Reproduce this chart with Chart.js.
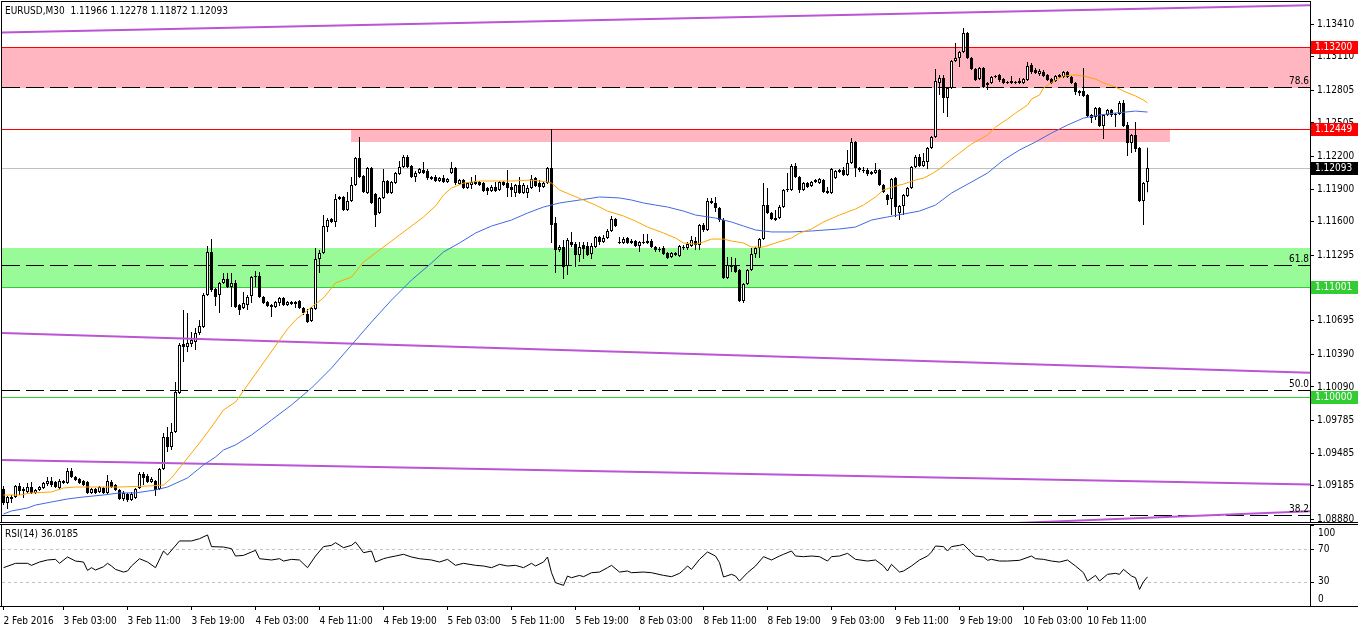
<!DOCTYPE html>
<html>
<head>
<meta charset="utf-8">
<script src="https://cdn.jsdelivr.net/npm/chart.js@4.4.1/dist/chart.umd.min.js"></script>
<style>
  html, body { margin: 0; padding: 0; background: #fff; }
  #wrap { position: relative; width: 1358px; height: 633px; overflow: hidden; }
  canvas { position: absolute; left: 0; }
  #main { top: 0; }
  #rsi { top: 523px; }
</style>
</head>
<body>
<div id="wrap">
  <canvas id="main" width="1358" height="523"></canvas>
  <canvas id="rsi" width="1358" height="110"></canvas>
</div>
<script>
// EURUSD M30 candles, bar 0 = 2 Feb 2016 19:30
const opens = [
  1.09156,1.09028,1.09083,1.09083,1.09183,1.09138,1.09129,1.09174,1.09120,1.09147,
  1.09165,1.09201,1.09229,1.09220,1.09165,1.09229,1.09211,1.09321,1.09266,1.09248,
  1.09229,1.09220,1.09120,1.09156,1.09129,1.09165,1.09120,1.09220,1.09192,1.09147,
  1.09065,1.09110,1.09055,1.09074,1.09165,1.09293,1.09275,1.09220,1.09229,1.09156,
  1.09339,1.09632,1.09540,1.09678,1.10034,1.10482,1.10455,1.10482,1.10501,1.10583,
  1.10638,1.10931,1.11325,1.10986,1.10931,1.11041,1.11077,1.11004,1.11041,1.10840,
  1.10812,1.10840,1.10922,1.11095,1.11104,1.10913,1.10867,1.10840,1.10821,1.10858,
  1.10904,1.10840,1.10849,1.10849,1.10876,1.10812,1.10757,1.10693,1.10803,1.11260,
  1.11315,1.11553,1.11626,1.11599,1.11809,1.11828,1.11709,1.11791,1.11937,1.12184,
  1.12019,1.11864,1.12093,1.11855,1.11681,1.11819,1.11974,1.11864,1.11955,1.12038,
  1.12102,1.12193,1.12111,1.12010,1.12047,1.12075,1.12065,1.12010,1.12010,1.11974,
  1.12001,1.11965,1.12047,1.12093,1.11946,1.11983,1.11910,1.11937,1.11974,1.11965,
  1.11955,1.11910,1.11882,1.11919,1.11892,1.11965,1.11955,1.11919,1.11864,1.11937,
  1.11864,1.11864,1.11910,1.12001,1.11955,1.11919,1.11955,1.12093,1.11590,1.11343,
  1.11370,1.11196,1.11416,1.11397,1.11297,1.11388,1.11379,1.11306,1.11370,1.11462,
  1.11416,1.11452,1.11517,1.11626,1.11416,1.11407,1.11452,1.11425,1.11425,1.11379,
  1.11416,1.11425,1.11425,1.11370,1.11343,1.11361,1.11315,1.11278,1.11315,1.11288,
  1.11370,1.11361,1.11379,1.11425,1.11388,1.11571,1.11526,1.11791,1.11773,1.11727,
  1.11617,1.11086,1.11205,1.11205,1.11160,1.10876,1.11031,1.11160,1.11306,1.11361,
  1.11443,1.11754,1.11681,1.11635,1.11635,1.11736,1.11892,1.11892,1.12111,1.12010,
  1.11892,1.11955,1.11928,1.11965,1.11955,1.11983,1.11882,1.11864,1.12001,1.12056,
  1.12075,1.12029,1.12139,1.12331,1.12093,1.12065,1.12075,1.12056,1.12047,1.12075,
  1.11937,1.11846,1.11809,1.12001,1.11681,1.11745,1.11837,1.11910,1.12102,1.12193,
  1.12111,1.12148,1.12276,1.12377,1.12871,1.12917,1.12733,1.12825,1.13072,1.13099,
  1.13154,1.13328,1.13099,1.12999,1.12907,1.13008,1.12871,1.12871,1.12926,1.12944,
  1.12907,1.12880,1.12871,1.12880,1.12871,1.12871,1.12898,1.13035,1.12990,1.12953,
  1.12971,1.12944,1.12907,1.12889,1.12944,1.12926,1.12971,1.12926,1.12871,1.12797,
  1.12797,1.12761,1.12578,1.12559,1.12642,1.12477,1.12578,1.12624,1.12587,1.12587,
  1.12688,1.12486,1.12322,1.12395,1.12276,1.11791,1.11966
];
const highs = [
  1.09183,1.09092,1.09101,1.09192,1.09211,1.09174,1.09211,1.09220,1.09156,1.09183,
  1.09220,1.09266,1.09266,1.09229,1.09248,1.09238,1.09348,1.09348,1.09275,1.09257,
  1.09238,1.09229,1.09165,1.09165,1.09183,1.09174,1.09284,1.09238,1.09201,1.09156,
  1.09138,1.09120,1.09129,1.09165,1.09312,1.09312,1.09293,1.09266,1.09238,1.09348,
  1.09668,1.09724,1.09760,1.10135,1.10492,1.10794,1.10766,1.10592,1.10629,1.10702,
  1.10950,1.11379,1.11443,1.10995,1.11050,1.11132,1.11132,1.11132,1.11068,1.10849,
  1.10959,1.10931,1.11104,1.11150,1.11141,1.10922,1.10876,1.10849,1.10876,1.10913,
  1.10913,1.10876,1.10876,1.10876,1.10885,1.10821,1.10803,1.10821,1.11361,1.11343,
  1.11663,1.11635,1.11635,1.11855,1.11837,1.11837,1.11873,1.12010,1.12193,1.12377,
  1.12029,1.12102,1.12102,1.11864,1.11828,1.12084,1.11983,1.11974,1.12056,1.12157,
  1.12212,1.12212,1.12120,1.12065,1.12093,1.12148,1.12084,1.12019,1.12029,1.12010,
  1.12029,1.12001,1.12148,1.12102,1.11992,1.11992,1.11965,1.12010,1.12029,1.11974,
  1.11965,1.11919,1.11937,1.11965,1.11974,1.11974,1.12075,1.11955,1.11946,1.12010,
  1.11955,1.11937,1.12029,1.12010,1.11983,1.11965,1.12102,1.12450,1.11645,1.11388,
  1.11434,1.11452,1.11508,1.11416,1.11416,1.11416,1.11416,1.11407,1.11471,1.11471,
  1.11480,1.11535,1.11654,1.11635,1.11462,1.11462,1.11462,1.11443,1.11434,1.11425,
  1.11489,1.11489,1.11443,1.11379,1.11370,1.11379,1.11325,1.11325,1.11325,1.11388,
  1.11388,1.11416,1.11471,1.11462,1.11580,1.11590,1.11819,1.11819,1.11828,1.11736,
  1.11635,1.11278,1.11278,1.11269,1.11169,1.11041,1.11169,1.11361,1.11370,1.11452,
  1.11955,1.11910,1.11690,1.11709,1.11754,1.11901,1.12047,1.12129,1.12139,1.12019,
  1.11965,1.11965,1.11974,1.11992,1.12001,1.11992,1.11919,1.12093,1.12075,1.12084,
  1.12102,1.12258,1.12367,1.12340,1.12102,1.12102,1.12093,1.12065,1.12139,1.12084,
  1.11946,1.11855,1.12001,1.12010,1.11754,1.11855,1.11919,1.12111,1.12212,1.12221,
  1.12230,1.12285,1.12386,1.12999,1.12944,1.12944,1.12834,1.13081,1.13237,1.13163,
  1.13374,1.13337,1.13108,1.13008,1.13017,1.13017,1.12880,1.12935,1.12944,1.12953,
  1.12917,1.12889,1.12935,1.12889,1.12917,1.12917,1.13063,1.13054,1.13008,1.12999,
  1.12990,1.12953,1.12917,1.12944,1.12953,1.12981,1.12981,1.12935,1.12880,1.12807,
  1.13008,1.12770,1.12587,1.12651,1.12651,1.12587,1.12633,1.12633,1.12596,1.12706,
  1.12715,1.12514,1.12404,1.12514,1.12285,1.11965,1.12278
];
const lows = [
  1.09009,1.08973,1.09028,1.09074,1.09101,1.09074,1.09120,1.09110,1.09110,1.09138,
  1.09156,1.09183,1.09174,1.09165,1.09156,1.09201,1.09201,1.09257,1.09229,1.09201,
  1.09183,1.09110,1.09110,1.09110,1.09120,1.09110,1.09110,1.09165,1.09138,1.09055,
  1.09046,1.09037,1.09046,1.09065,1.09156,1.09192,1.09211,1.09211,1.09092,1.09147,
  1.09330,1.09495,1.09513,1.09668,1.10025,1.10318,1.10410,1.10455,1.10428,1.10565,
  1.10629,1.10922,1.10959,1.10830,1.10766,1.11031,1.10995,1.10821,1.10812,1.10748,
  1.10803,1.10794,1.10858,1.11004,1.10904,1.10849,1.10821,1.10730,1.10812,1.10830,
  1.10830,1.10830,1.10840,1.10812,1.10803,1.10748,1.10675,1.10684,1.10794,1.11132,
  1.11306,1.11508,1.11590,1.11553,1.11800,1.11700,1.11700,1.11782,1.11928,1.12001,
  1.11864,1.11855,1.11764,1.11553,1.11672,1.11809,1.11855,1.11855,1.11946,1.12029,
  1.12093,1.12093,1.12001,1.11965,1.12038,1.12038,1.11983,1.11983,1.11965,1.11965,
  1.11955,1.11955,1.12038,1.11937,1.11937,1.11901,1.11901,1.11901,1.11937,1.11928,
  1.11873,1.11846,1.11873,1.11873,1.11882,1.11928,1.11828,1.11828,1.11828,1.11855,
  1.11855,1.11819,1.11901,1.11919,1.11873,1.11910,1.11946,1.11407,1.11132,1.11325,
  1.11077,1.11114,1.11370,1.11187,1.11233,1.11260,1.11288,1.11260,1.11361,1.11388,
  1.11407,1.11443,1.11508,1.11553,1.11397,1.11397,1.11397,1.11397,1.11370,1.11325,
  1.11397,1.11397,1.11361,1.11325,1.11325,1.11297,1.11260,1.11269,1.11288,1.11278,
  1.11343,1.11343,1.11370,1.11343,1.11343,1.11508,1.11517,1.11764,1.11690,1.11599,
  1.11077,1.11077,1.11141,1.11132,1.10867,1.10858,1.11022,1.11150,1.11269,1.11269,
  1.11434,1.11672,1.11617,1.11608,1.11626,1.11727,1.11873,1.11882,1.12001,1.11864,
  1.11882,1.11910,1.11919,1.11955,1.11946,1.11864,1.11855,1.11855,1.11992,1.12047,
  1.12019,1.12019,1.12129,1.12010,1.12056,1.12047,1.12019,1.12029,1.12038,1.11928,
  1.11864,1.11754,1.11663,1.11645,1.11617,1.11663,1.11828,1.11901,1.12093,1.12102,
  1.12102,1.12084,1.12267,1.12367,1.12761,1.12596,1.12559,1.12816,1.13063,1.13017,
  1.13145,1.13090,1.12990,1.12889,1.12898,1.12825,1.12807,1.12862,1.12917,1.12880,
  1.12862,1.12862,1.12862,1.12862,1.12862,1.12862,1.12889,1.12953,1.12953,1.12935,
  1.12926,1.12889,1.12862,1.12880,1.12917,1.12917,1.12917,1.12862,1.12761,1.12752,
  1.12743,1.12559,1.12505,1.12532,1.12468,1.12358,1.12569,1.12559,1.12468,1.12578,
  1.12468,1.12203,1.12230,1.12239,1.11782,1.11571,1.11872
];
const closes = [
  1.09028,1.09083,1.09065,1.09183,1.09138,1.09156,1.09174,1.09120,1.09147,1.09174,
  1.09211,1.09229,1.09192,1.09174,1.09229,1.09211,1.09321,1.09266,1.09238,1.09211,
  1.09192,1.09120,1.09156,1.09120,1.09174,1.09120,1.09229,1.09174,1.09147,1.09065,
  1.09120,1.09055,1.09110,1.09156,1.09293,1.09257,1.09220,1.09248,1.09147,1.09339,
  1.09632,1.09540,1.09678,1.10044,1.10473,1.10455,1.10492,1.10519,1.10583,1.10647,
  1.10931,1.11325,1.10977,1.10913,1.11041,1.11077,1.11004,1.11041,1.10821,1.10794,
  1.10858,1.10913,1.11095,1.11104,1.10913,1.10858,1.10830,1.10821,1.10867,1.10904,
  1.10840,1.10867,1.10867,1.10867,1.10812,1.10766,1.10684,1.10812,1.11260,1.11315,
  1.11562,1.11617,1.11599,1.11809,1.11828,1.11709,1.11791,1.11937,1.12184,1.12010,
  1.11873,1.12093,1.11773,1.11663,1.11819,1.11974,1.11864,1.11965,1.12047,1.12102,
  1.12193,1.12102,1.12010,1.12047,1.12084,1.12047,1.12001,1.11992,1.11974,1.12001,
  1.11965,1.11992,1.12093,1.11955,1.11983,1.11910,1.11955,1.11965,1.11946,1.11937,
  1.11882,1.11882,1.11919,1.11882,1.11965,1.11937,1.11910,1.11892,1.11937,1.11864,
  1.11937,1.11910,1.11992,1.11928,1.11919,1.11955,1.12093,1.11571,1.11343,1.11370,
  1.11187,1.11434,1.11388,1.11297,1.11370,1.11352,1.11297,1.11379,1.11462,1.11416,
  1.11452,1.11517,1.11626,1.11562,1.11407,1.11443,1.11407,1.11407,1.11379,1.11416,
  1.11407,1.11407,1.11370,1.11343,1.11352,1.11306,1.11269,1.11315,1.11297,1.11379,
  1.11361,1.11397,1.11434,1.11388,1.11571,1.11526,1.11791,1.11773,1.11727,1.11617,
  1.11086,1.11205,1.11187,1.11141,1.10876,1.11031,1.11160,1.11306,1.11361,1.11443,
  1.11754,1.11681,1.11626,1.11617,1.11736,1.11892,1.11901,1.12111,1.12010,1.11892,
  1.11955,1.11919,1.11965,1.11983,1.11992,1.11873,1.11864,1.12084,1.12065,1.12075,
  1.12029,1.12139,1.12331,1.12093,1.12075,1.12075,1.12038,1.12038,1.12075,1.11937,
  1.11873,1.11800,1.11992,1.11736,1.11745,1.11846,1.11910,1.12102,1.12193,1.12111,
  1.12157,1.12276,1.12377,1.12889,1.12917,1.12733,1.12825,1.13072,1.13099,1.13154,
  1.13328,1.13099,1.12999,1.12898,1.13008,1.12834,1.12853,1.12926,1.12935,1.12898,
  1.12871,1.12871,1.12889,1.12871,1.12889,1.12907,1.13026,1.12971,1.12962,1.12981,
  1.12935,1.12898,1.12871,1.12935,1.12926,1.12971,1.12926,1.12871,1.12788,1.12779,
  1.12752,1.12569,1.12550,1.12642,1.12477,1.12578,1.12624,1.12578,1.12578,1.12688,
  1.12477,1.12322,1.12395,1.12267,1.11791,1.11955,1.12093
];

// moving averages at sample bars
const maFastBar = [0,4,7,12,15,18,29,36,40,42,45,49,52,55,58,71,73,77,80,83,
  87,90,94,98,101,105,108,110,112,115,119,127,132,136,137,139,142,145,148,151,
  155,158,161,165,168,170,173,175,177,180,182,185,187,190,193,197,199,202,205,209,
  213,215,218,220,223,225,228,230,232,234,237,242,246,248,251,253,256,257,259,260,
  263,265,268,270,273,275,278,280,283,285,286];
const maFastVal = [1.09101,1.09101,1.09120,1.09129,1.09165,1.09174,1.09174,1.09183,1.09192,1.09257,
  1.09394,1.09577,1.09724,1.09879,1.09952,1.10620,1.10702,1.10821,1.10904,1.11041,
  1.11095,1.11233,1.11343,1.11452,1.11535,1.11645,1.11745,1.11846,1.11910,1.11955,
  1.11974,1.11974,1.11983,1.11965,1.11955,1.11892,1.11846,1.11800,1.11754,1.11699,
  1.11654,1.11608,1.11553,1.11498,1.11452,1.11407,1.11397,1.11416,1.11443,1.11443,
  1.11425,1.11407,1.11370,1.11370,1.11407,1.11452,1.11498,1.11535,1.11599,1.11663,
  1.11718,1.11754,1.11828,1.11892,1.11928,1.11946,1.11983,1.12001,1.12038,1.12084,
  1.12175,1.12312,1.12395,1.12468,1.12541,1.12596,1.12669,1.12724,1.12761,1.12825,
  1.12898,1.12935,1.12944,1.12935,1.12907,1.12871,1.12834,1.12797,1.12752,1.12715,
  1.12688];
const maSlowBar = [0,2,6,8,12,16,20,25,29,33,38,41,46,50,53,55,58,62,67,72,
  77,82,87,92,97,102,107,110,114,118,122,127,131,135,139,144,149,154,157,160,
  163,166,170,173,178,182,185,188,192,197,202,209,213,217,221,225,229,233,237,242,
  246,250,254,258,262,266,270,274,278,283,286];
const maSlowVal = [1.08927,1.08955,1.08982,1.09009,1.09037,1.09065,1.09083,1.09101,1.09120,1.09120,
  1.09147,1.09174,1.09257,1.09376,1.09449,1.09513,1.09559,1.09650,1.09787,1.09925,
  1.10080,1.10263,1.10473,1.10684,1.10885,1.11068,1.11224,1.11325,1.11407,1.11498,
  1.11562,1.11617,1.11681,1.11736,1.11773,1.11800,1.11828,1.11819,1.11800,1.11773,
  1.11754,1.11736,1.11699,1.11663,1.11635,1.11599,1.11562,1.11526,1.11508,1.11508,
  1.11517,1.11535,1.11553,1.11617,1.11645,1.11672,1.11699,1.11754,1.11864,1.11965,
  1.12047,1.12166,1.12258,1.12331,1.12413,1.12486,1.12550,1.12578,1.12596,1.12614,
  1.12605];

// RSI(14) read at sample bars
const rsiBar = [0,3,6,7,9,11,13,14,16,18,20,21,22,23,25,26,27,28,30,31,
  32,34,36,38,40,41,44,47,49,51,52,55,57,58,60,62,63,64,67,69,
  70,72,74,76,78,80,82,83,85,87,88,90,92,93,95,96,98,100,102,104,
  107,109,111,113,115,118,120,122,124,126,128,130,132,133,135,136,137,138,140,141,
  142,144,145,147,149,151,152,154,156,157,160,162,165,167,169,170,171,172,174,176,
  178,179,180,182,183,184,186,188,190,192,194,195,197,198,200,202,204,206,207,209,
  211,213,216,218,220,221,222,224,225,227,229,231,232,233,235,236,237,239,240,242,
  243,245,246,247,249,251,254,257,258,260,262,264,266,268,270,271,273,274,276,278,
  279,280,282,283,284,285,286];
const rsiVal = [47.3,52.7,52.7,50.2,54.3,56.8,57.6,52.7,60.5,55.5,54.3,44.0,47.3,44.4,48.5,52.7,49.4,45.2,41.9,43.2,
  49.4,58.4,54.3,47.3,67.9,63.0,80.3,80.3,83.1,87.7,73.3,72.8,70.8,61.7,62.5,66.7,68.7,58.4,56.8,58.4,
  55.5,57.6,56.8,47.3,61.7,73.3,74.9,78.2,72.0,74.9,79.0,65.8,67.9,54.3,58.4,59.7,61.7,63.8,60.5,58.4,
  56.8,54.3,57.6,50.2,52.7,50.2,49.4,47.3,51.4,49.4,50.2,47.3,52.7,49.4,54.3,60.5,41.1,28.8,25.5,37.0,
  34.9,37.8,36.2,41.1,41.9,47.3,50.2,41.9,43.2,41.1,41.9,41.1,37.8,36.2,40.3,44.4,49.4,45.2,57.6,66.7,
  61.7,53.5,35.8,39.1,37.0,30.8,41.1,49.4,60.9,56.8,61.7,63.8,67.9,61.7,60.9,61.7,60.9,55.5,60.9,61.7,
  65.0,57.6,55.5,56.8,49.4,43.2,51.4,41.9,43.2,49.4,56.8,61.7,66.7,74.1,73.3,67.9,73.3,74.9,76.1,65.8,
  61.7,60.5,56.4,57.6,55.5,55.5,56.4,61.7,58.4,57.6,55.5,54.3,56.8,49.4,41.1,30.8,37.8,30.8,39.1,40.3,
  39.1,45.2,37.0,34.9,20.5,30.0,36.0];
const rsiLast = '36.0185';
const rsiLevels = [70, 30];
const rsiTicks = [100, 70, 30, 0];

// axes
const priceTicks = [1.13410,1.13110,1.12805,1.12505,1.12200,1.11900,1.11600,1.11295,
  1.10995,1.10695,1.10390,1.10090,1.09785,1.09485,1.09185,1.08880];
const timeTickBars = [0,15,31,47,63,79,95,111,127,143,159,175,191,207,223,239,255,271];
const timeTickLabels = ['2 Feb 2016','3 Feb 03:00','3 Feb 11:00','3 Feb 19:00','4 Feb 03:00',
  '4 Feb 11:00','4 Feb 19:00','5 Feb 03:00','5 Feb 11:00','5 Feb 19:00','8 Feb 03:00',
  '8 Feb 11:00','8 Feb 19:00','9 Feb 03:00','9 Feb 11:00','9 Feb 19:00','10 Feb 03:00','10 Feb 11:00'];

// drawn objects
const zoneHigh = [1.13200, 1.12449, 1.11360];
const zoneLow = [1.12825, 1.12331, 1.11001];
const zoneFrom = [-5, 86.9, -5];
const zoneTo = [340, 291.6, 340];
const zoneColor = ['#ffb6c1', '#ffb6c1', '#98fb98'];

const levelPrice = [1.13200, 1.12449, 1.12093, 1.11001, 1.10000];
const levelColor = ['#ff0000', '#ff0000', '#c0c0c0', '#32cd32', '#32cd32'];
const levelBox = ['#ff0000', '#ff0000', '#000000', '#32cd32', '#32cd32'];

const fibLabel = ['78.6', '61.8', '50.0', '38.2'];
const fibPrice = [1.12825, 1.11196, 1.10053, 1.08908];

const trendBars = [[-1, 328], [-1, 328], [-1, 328], [200, 328]];
const trendVals = [[1.13332, 1.13584], [1.10583, 1.10217], [1.09421, 1.09197], [1.08766, 1.08955]];

const FONT = '"DejaVu Sans Condensed", "DejaVu Sans", sans-serif';
const X_MIN = -0.375, X_MAX = 326.625;

const bars = opens.map((o, i) => i);
const bodyData = bars.map(i => ({ x: i, y: [opens[i], closes[i]] }));
const wickData = bars.map(i => ({ x: i, y: [lows[i], highs[i]] }));
const bodyFill = bars.map(i => closes[i] >= opens[i] ? '#ffffff' : '#000000');

const pts = (xs, ys) => xs.map((x, k) => ({ x: x, y: ys[k] }));

const lineDs = (data, color, width) => ({
  type: 'line', data: data, borderColor: color, borderWidth: width,
  pointRadius: 0, tension: 0, fill: false
});

const mainDatasets = [
  lineDs(pts(maFastBar, maFastVal), '#ffa500', 1),
  lineDs(pts(maSlowBar, maSlowVal), '#4169e1', 1)
];
trendBars.forEach((tb, k) => mainDatasets.push(lineDs(pts(tb, trendVals[k]), '#ba55d3', 2)));
mainDatasets.push({
  type: 'bar', data: bodyData, backgroundColor: bodyFill, borderColor: '#000',
  borderWidth: 1, borderSkipped: false, barThickness: 3, grouped: false,
  minBarLength: 1, inflateAmount: 0
});
mainDatasets.push({
  type: 'bar', data: wickData, backgroundColor: '#000', borderWidth: 0,
  barThickness: 1, grouped: false, minBarLength: 1, inflateAmount: 0
});

function hline(ctx, x0, x1, yy) {
  ctx.beginPath(); ctx.moveTo(x0, yy); ctx.lineTo(x1, yy); ctx.stroke();
}

// no label padding: keep the plot area exactly where it is set
function noPad(s) {
  s.paddingTop = 0; s.paddingBottom = 0; s.paddingLeft = 0; s.paddingRight = 0;
}

const mainPlugin = {
  id: 'mainDecor',
  beforeDatasetsDraw(chart) {
    const { ctx, chartArea: a, scales: { x, y } } = chart;
    ctx.save();
    ctx.beginPath();
    ctx.rect(a.left, a.top, a.right - a.left, a.bottom - a.top);
    ctx.clip();
    zoneHigh.forEach((hi, k) => {
      const x0 = Math.round(Math.max(a.left, x.getPixelForValue(zoneFrom[k])));
      const x1 = Math.round(Math.min(a.right, x.getPixelForValue(zoneTo[k])));
      const y0 = Math.round(y.getPixelForValue(hi));
      const y1 = Math.round(y.getPixelForValue(zoneLow[k]));
      ctx.fillStyle = zoneColor[k];
      ctx.fillRect(x0, y0, x1 - x0, y1 - y0);
    });
    ctx.lineWidth = 1;
    levelPrice.forEach((p, k) => {
      ctx.strokeStyle = levelColor[k];
      hline(ctx, a.left, a.right, Math.round(y.getPixelForValue(p)) + 0.5);
    });
    ctx.strokeStyle = '#000';
    ctx.setLineDash([18, 6]);
    fibPrice.forEach(p => hline(ctx, a.left, a.right, Math.round(y.getPixelForValue(p)) - 0.5));
    ctx.restore();
  },
  afterDatasetsDraw(chart) {
    const { ctx, chartArea: a, scales: { y } } = chart;
    ctx.save();
    ctx.font = '10px ' + FONT;
    ctx.fillStyle = '#000';
    ctx.textAlign = 'right';
    ctx.textBaseline = 'bottom';
    fibPrice.forEach((p, k) => ctx.fillText(fibLabel[k], a.right - 1, Math.round(y.getPixelForValue(p)) - 2));
    const n = closes.length - 1;
    const title = 'EURUSD,M30  ' + [opens[n], highs[n], lows[n], closes[n]].map(v => v.toFixed(5)).join(' ');
    ctx.textAlign = 'left';
    ctx.textBaseline = 'middle';
    ctx.fillText(title, a.left + 3, a.top + 9);
    ctx.restore();
  },
  afterDraw(chart) {
    const { ctx, chartArea: a, scales: { y } } = chart;
    ctx.save();
    ctx.strokeStyle = '#000';
    ctx.lineWidth = 1;
    ctx.strokeRect(a.left - 0.5, a.top - 0.5, a.right - a.left + 1, a.bottom - a.top + 1);
    hline(ctx, 0, chart.width, a.bottom + 0.5);
    ctx.font = '10px ' + FONT;
    ctx.textBaseline = 'middle';
    ctx.textAlign = 'left';
    levelPrice.forEach((p, k) => {
      const yc = Math.round(y.getPixelForValue(p));
      ctx.fillStyle = levelBox[k];
      ctx.fillRect(a.right + 1, yc - 6, chart.width - a.right - 1, 13);
      ctx.fillStyle = '#fff';
      ctx.fillText(p.toFixed(5), a.right + 5, yc + 0.5);
    });
    ctx.restore();
  }
};

new Chart(document.getElementById('main'), {
  type: 'bar',
  data: { datasets: mainDatasets },
  options: {
    responsive: false, animation: false, devicePixelRatio: 1, events: [],
    layout: { padding: { left: 2, top: 2, right: 0, bottom: 1 } },
    plugins: { legend: { display: false }, tooltip: { enabled: false } },
    scales: {
      x: { type: 'linear', min: X_MIN, max: X_MAX, display: false, offset: false },
      y: {
        type: 'linear', position: 'right', min: 1.08854, max: 1.13612,
        afterFit: s => { s.width = 48; noPad(s); },
        afterBuildTicks: s => { s.ticks = priceTicks.map(v => ({ value: v })); },
        ticks: { autoSkip: false, color: '#000', padding: 3, font: { family: FONT, size: 10 },
          callback: v => v.toFixed(5) },
        grid: { drawOnChartArea: false, drawTicks: true, tickLength: 4, tickColor: '#000' },
        border: { display: false }
      }
    }
  },
  plugins: [mainPlugin]
});

const rsiPlugin = {
  id: 'rsiDecor',
  beforeDatasetsDraw(chart) {
    const { ctx, chartArea: a, scales: { y } } = chart;
    ctx.save();
    ctx.strokeStyle = '#c0c0c0';
    ctx.lineWidth = 1;
    ctx.setLineDash([3, 3]);
    rsiLevels.forEach(v => hline(ctx, a.left, a.right, Math.round(y.getPixelForValue(v)) + 0.5));
    ctx.restore();
  },
  afterDraw(chart) {
    const { ctx, chartArea: a, scales: { y } } = chart;
    ctx.save();
    ctx.strokeStyle = '#000';
    ctx.lineWidth = 1;
    ctx.strokeRect(a.left - 0.5, a.top - 0.5, a.right - a.left + 1, a.bottom - a.top + 1);
    hline(ctx, 0, chart.width, a.top - 0.5);
    hline(ctx, 0, chart.width, a.bottom + 0.5);
    ctx.font = '10px ' + FONT;
    ctx.fillStyle = '#000';
    ctx.textBaseline = 'middle';
    ctx.textAlign = 'left';
    rsiTicks.forEach(v => {
      const yp = y.getPixelForValue(v);
      hline(ctx, a.right, a.right + 4, Math.round(yp) + 0.5);
      const yl = Math.min(Math.max(yp, a.top + 8), a.bottom - 7);
      ctx.fillText(String(v), a.right + 8, yl);
    });
    ctx.fillText('RSI(14) ' + rsiLast, a.left + 3, a.top + 9);
    ctx.restore();
  }
};

new Chart(document.getElementById('rsi'), {
  type: 'line',
  data: { datasets: [lineDs(pts(rsiBar, rsiVal), '#000', 1)] },
  options: {
    responsive: false, animation: false, devicePixelRatio: 1, events: [],
    layout: { padding: { left: 2, top: 2, right: 0, bottom: 0 } },
    plugins: { legend: { display: false }, tooltip: { enabled: false } },
    scales: {
      x: {
        type: 'linear', min: X_MIN, max: X_MAX, offset: false,
        afterFit: s => { s.height = 27; noPad(s); },
        afterBuildTicks: s => { s.ticks = timeTickBars.map(v => ({ value: v })); },
        ticks: { autoSkip: false, maxRotation: 0, align: 'start', color: '#000', padding: 5,
          font: { family: FONT, size: 10 }, callback: (v, i) => timeTickLabels[i] },
        grid: { drawOnChartArea: false, drawTicks: true, tickLength: 4, tickColor: '#000' },
        border: { display: false }
      },
      y: {
        min: 0, max: 100, position: 'right',
        afterFit: s => { s.width = 48; noPad(s); },
        ticks: { display: false }, grid: { display: false }, border: { display: false }
      }
    }
  },
  plugins: [rsiPlugin]
});
</script>
</body>
</html>
